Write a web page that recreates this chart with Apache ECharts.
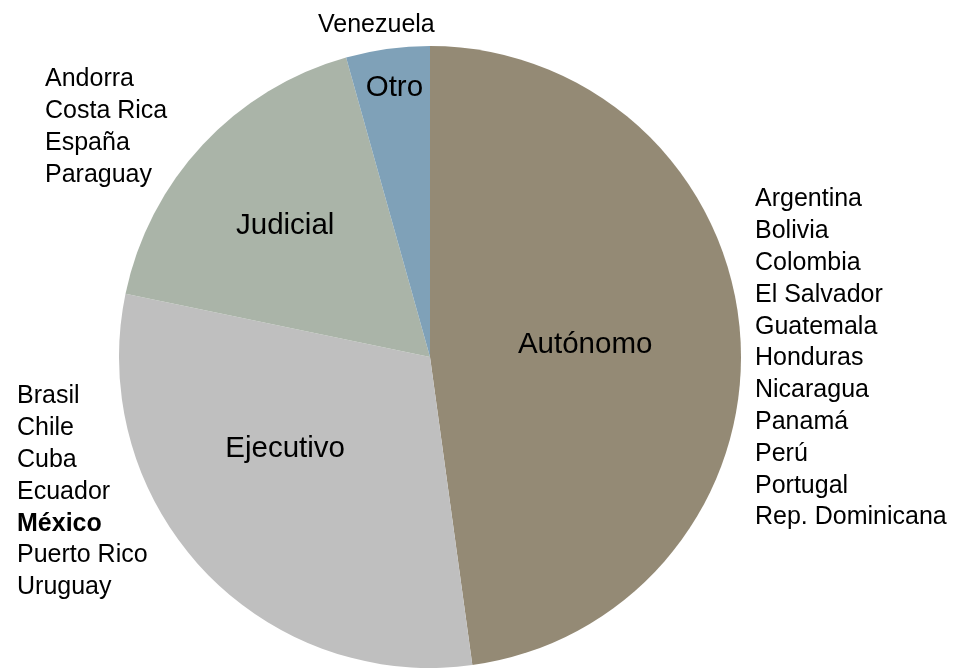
<!DOCTYPE html>
<html>
<head>
<meta charset="utf-8">
<script src="https://cdn.jsdelivr.net/npm/echarts@6/dist/echarts.min.js"></script>
<style>html,body{margin:0;padding:0;background:#fff}#c{width:961px;height:670px}</style>
</head>
<body>
<div id="c"></div>
<script>
var categories = ['Autónomo', 'Ejecutivo', 'Judicial', 'Otro'];
var values = [11, 7, 4, 1];
var countriesAutonomo = ['Argentina','Bolivia','Colombia','El Salvador','Guatemala','Honduras','Nicaragua','Panamá','Perú','Portugal','Rep. Dominicana'];
var countriesEjecutivo = ['Brasil','Chile','Cuba','Ecuador','México','Puerto Rico','Uruguay'];
var countriesJudicial = ['Andorra','Costa Rica','España','Paraguay'];
var countriesOtro = ['Venezuela'];
var boldCountries = ['México'];

var colors = ['#948a75', '#bfbfbf', '#aab4a8', '#7fa1b8'];
var labelShift = [[-3, -1], [-29, -16], [-29, -23], [-14, -112]];
var FONT = '"Liberation Sans", Arial, sans-serif';

function listText(arr) {
  return arr.map(function (c) {
    return boldCountries.indexOf(c) >= 0 ? '{b|' + c + '}' : '{n|' + c + '}';
  }).join('\n');
}
function listGraphic(arr, x, y) {
  return {
    type: 'text', left: x, top: y,
    style: {
      text: listText(arr),
      rich: {
        n: { fontFamily: FONT, fontSize: 25, lineHeight: 31.8, fill: '#000', fontWeight: 'normal' },
        b: { fontFamily: FONT, fontSize: 25, lineHeight: 31.8, fill: '#000', fontWeight: 'bold' }
      }
    }
  };
}

var chart = echarts.init(document.getElementById('c'), null, { renderer: 'canvas' });
chart.setOption({
  animation: false,
  backgroundColor: '#ffffff',
  series: [{
    type: 'pie',
    center: [430, 357],
    radius: [0, 311],
    startAngle: 90,
    clockwise: true,
    silent: true,
    emphasis: { disabled: true },
    label: {
      show: true, position: 'inside', formatter: '{b}',
      fontFamily: FONT, fontSize: 29.5, color: '#000'
    },
    labelLine: { show: false },
    labelLayout: function (p) {
      var s = labelShift[p.dataIndex];
      return { dx: s[0], dy: s[1] };
    },
    itemStyle: { borderWidth: 0 },
    data: categories.map(function (c, i) {
      return { name: c, value: values[i], itemStyle: { color: colors[i] } };
    })
  }],
  graphic: [
    listGraphic(countriesAutonomo, 755, 187),
    listGraphic(countriesEjecutivo, 17, 384),
    listGraphic(countriesJudicial, 45, 67),
    listGraphic(countriesOtro, 318, 13)
  ]
});
</script>
</body>
</html>
